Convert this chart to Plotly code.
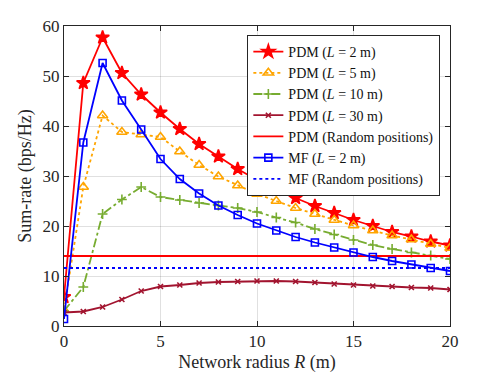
import plotly.graph_objects as go

# network radius R (m)
radius = list(range(0, 21))

pdm_l2 = [5.8, 48.6, 57.7, 50.6, 46.3, 42.7, 39.4, 36.4, 33.9, 31.4, 29.2,
          27.2, 25.6, 24.0, 22.6, 21.2, 20.0, 18.8, 17.9, 16.9, 16.1]
pdm_l5 = [3.2, 27.8, 42.1, 38.8, 38.3, 37.8, 34.9, 32.2, 29.9, 28.1, 26.4,
          25.0, 23.6, 22.4, 21.2, 20.1, 19.1, 18.1, 17.3, 16.4, 15.6]
pdm_l10 = [3.0, 7.8, 22.4, 25.3, 27.8, 25.8, 25.2, 24.6, 24.1, 23.6, 22.8,
           21.7, 20.7, 19.4, 18.3, 17.2, 16.2, 15.4, 14.7, 14.1, 13.4]
pdm_l30 = [2.7, 2.9, 3.8, 5.3, 7.0, 7.9, 8.2, 8.6, 8.8, 8.9, 9.0,
           9.0, 8.9, 8.7, 8.4, 8.2, 8.0, 7.9, 7.7, 7.6, 7.3]
mf_l2 = [1.4, 36.7, 52.6, 45.1, 39.3, 33.4, 29.4, 26.5, 24.1, 22.2, 20.5,
         19.1, 17.8, 16.7, 15.7, 14.7, 13.8, 13.0, 12.3, 11.6, 11.0]
pdm_random = 14.0
mf_random = 11.6

FONT = "Liberation Serif"

fig = go.Figure()

def add_series(y, name, color, dash, symbol, msize, lwidth=1.8):
    fig.add_trace(go.Scatter(
        x=radius, y=y, name=name, mode="lines+markers",
        line=dict(color=color, width=lwidth, dash=dash),
        marker=dict(symbol=symbol, size=msize, color=color,
                    line=dict(color=color, width=1.6)),
    ))

add_series(pdm_l2, "PDM (<i>L</i> = 2 m)", "#ff0000", "solid", "star", 10)
add_series(pdm_l5, "PDM (<i>L</i> = 5 m)", "#ffa500", "dot", "triangle-up-open", 9)
add_series(pdm_l10, "PDM (<i>L</i> = 10 m)", "#77ac30", "dashdot", "cross-thin-open", 7)
add_series(pdm_l30, "PDM (<i>L</i> = 30 m)", "#a2142f", "solid", "x-thin-open", 5)

fig.add_trace(go.Scatter(
    x=[radius[0], radius[-1]], y=[pdm_random, pdm_random],
    name="PDM (Random positions)", mode="lines",
    line=dict(color="#ff0000", width=1.8),
))

add_series(mf_l2, "MF (<i>L</i> = 2 m)", "#0000ff", "solid", "square-open", 7)

fig.add_trace(go.Scatter(
    x=[radius[0], radius[-1]], y=[mf_random, mf_random],
    name="MF (Random positions)", mode="lines",
    line=dict(color="#0000ff", width=1.8, dash="dot"),
))

axis_common = dict(
    showgrid=True, gridcolor="rgba(0,0,0,0.12)", gridwidth=1,
    showline=True, linecolor="#262626", linewidth=1, mirror="ticks",
    ticks="inside", ticklen=5, tickcolor="#262626",
    zeroline=False, automargin=False,
    tickfont=dict(family=FONT, size=17, color="#262626"),
)

# page body adds an 8px offset, so the figure is sized to the remaining area
fig.update_layout(
    width=490, height=366,
    margin=dict(l=56, r=48, t=18, b=48, autoexpand=False),
    paper_bgcolor="white", plot_bgcolor="white",
    font=dict(family=FONT, size=15, color="#262626"),
    showlegend=True,
    legend=dict(
        x=0.975, y=0.97, xanchor="right", yanchor="top",
        bgcolor="white", bordercolor="#262626", borderwidth=1,
        font=dict(family=FONT, size=14, color="#111"),
        tracegroupgap=0, itemwidth=30,
    ),
    xaxis=dict(range=[0, 20], dtick=5,
               title=dict(text="Network radius <i>R</i> (m)", standoff=4,
                          font=dict(family=FONT, size=18)),
               **axis_common),
    yaxis=dict(range=[0, 60], dtick=10,
               title=dict(text="Sum-rate (bps/Hz)", standoff=6,
                          font=dict(family=FONT, size=18)),
               **axis_common),
)

fig.write_html("out.html")
